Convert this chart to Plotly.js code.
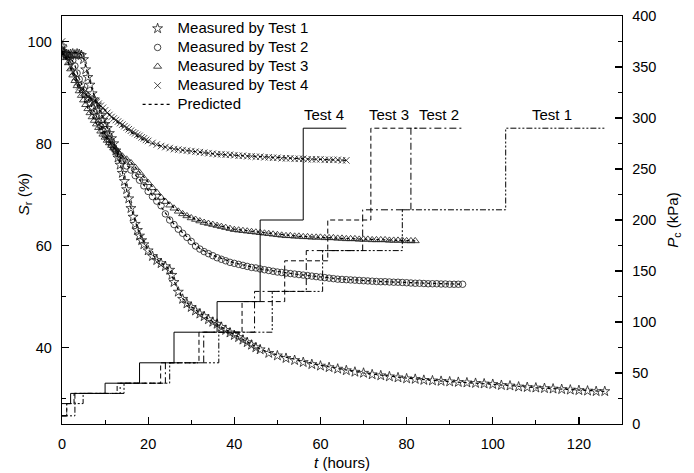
<!DOCTYPE html>
<html>
<head>
<meta charset="utf-8">
<script src="https://cdn.plot.ly/plotly-3.0.1.min.js"></script>
<style>html,body{margin:0;padding:0;background:#fff;}#chart{width:694px;height:473px;}</style>
</head>
<body>
<div id="chart"></div>
<script>
// ---- Measured degree of saturation S_r (%) vs time t (hours) ----
var t1 = [0,0.5,1,1.5,2,2.5,3,3.5,4,4.5,5,5.5,6,6.5,7,7.5,8,8.5,9,9.5,10,10.5,11,11.5,12,12.5,13,13.5,14,14.5,15,15.5,16,16.5,17,17.5,18,18.5,19,20,21,22,23,24,25,25.5,26,27,28,29,30,31,32,33,34,35,36,37,38,39,40,41,42,43,44,45,46,48,50,52,54,56,58,60,62,64,66,68,70,72,74,76,78,80,82,84,86,88,90,92,94,96,98,100,102,104,106,108,110,112,114,116,118,120,122,124,126];
var s1 = [99,98,97.5,97.3,97.5,97.6,97.4,97.6,97.5,97.3,96.5,94.5,93,91.5,89.8,88.6,87.6,86.6,85.6,84.6,83.8,83,82,81,80,78.6,77.2,75.8,74.2,72.6,71,69.2,67.3,65.6,64.2,63,61.9,61,60.2,59,57.9,57.1,56.5,55.9,55.2,54.2,52.8,50.9,49.5,48.6,47.9,47.2,46.6,46.1,45.5,45,44.6,44,43.4,42.9,42.4,42,41.5,41,40.5,40,39.6,38.9,38.4,37.9,37.5,37.1,36.7,36.4,36.1,35.8,35.5,35.2,35.0,34.7,34.5,34.3,34.1,33.9,33.8,33.6,33.5,33.4,33.3,33.2,33.1,33.0,32.9,32.8,32.6,32.5,32.3,32.2,32.1,32.0,31.9,31.8,31.7,31.6,31.5,31.4,31.4];

var t2 = [0,0.5,1,1.5,2,2.5,3,3.5,4,4.5,5,5.5,6,6.5,7,7.5,8,8.5,9,9.5,10,10.5,11,11.5,12,12.5,13,13.5,14,15,16,17,18,19,20,21,22,23,24,25,26,27,28,29,30,31,32,33,34,35,36,37,38,39,40,41,42,43,44,45,46,47,48,49,50,51,52,53,54,55,56,57,58,59,60,61,62,63,64,65,66,67,68,69,70,71,72,73,74,75,76,77,78,79,80,81,82,83,84,85,86,87,88,89,90,91,92,93];
var s2 = [98,97.5,97.3,97,96.8,96.3,95.2,93.8,92.6,91.5,90.5,89.6,88.7,87.9,87,86.2,85.3,84.3,83.3,82.5,81.7,81,80.3,79.7,79.1,78.6,78,77.3,76.6,75.6,74.8,73.7,72.8,71.7,70.6,69.6,68.7,67.8,66.2,65,64.1,63.2,62.4,61.6,60.8,59.9,59.3,58.8,58.4,58.0,57.6,57.3,57.0,56.7,56.5,56.3,56.1,55.9,55.7,55.6,55.4,55.25,55.1,54.95,54.8,54.7,54.6,54.5,54.4,54.3,54.2,54.1,54.0,53.9,53.8,53.7,53.6,53.5,53.4,53.35,53.3,53.25,53.2,53.15,53.1,53.05,53.0,52.95,52.9,52.9,52.85,52.8,52.8,52.75,52.7,52.65,52.6,52.6,52.55,52.5,52.5,52.5,52.45,52.45,52.4,52.4,52.4,52.4];

var t3 = [0,0.5,1,1.5,2,2.5,3,3.5,4,4.5,5,5.5,6,6.5,7,7.5,8,8.5,9,9.5,10,10.5,11,11.5,12,12.5,13,14,15,16,17,18,19,20,21,22,23,24,25,26,27,28,29,30,31,32,33,34,35,36,37,38,39,40,41,42,43,44,45,46,47,48,49,50,51,52,53,54,55,56,57,58,59,60,61,62,63,64,65,66,67,68,69,70,71,72,73,74,75,76,77,78,79,80,81,82];
var s3 = [98.5,97.5,96.8,95.8,94.6,93.4,92.3,91.3,90.3,89.4,88.5,87.6,86.8,86,85.2,84.5,83.8,83.1,82.4,81.8,81.2,80.6,80.1,79.6,79.1,78.7,78.3,77.5,76.9,76.2,75.3,74.3,73.2,72.3,71.3,70.4,69.4,68.6,67.9,67.3,66.7,66.2,65.8,65.4,65.1,64.8,64.5,64.3,64.1,63.9,63.7,63.5,63.3,63.1,63.0,62.9,62.8,62.7,62.6,62.5,62.4,62.3,62.2,62.1,62.0,61.9,61.9,61.8,61.8,61.7,61.7,61.6,61.6,61.6,61.5,61.5,61.5,61.4,61.4,61.3,61.3,61.3,61.2,61.2,61.2,61.1,61.1,61.1,61.1,61.0,61.0,61.0,61.0,60.9,60.9,60.9];

var t4 = [0,0.5,1,1.5,2,2.5,3,3.5,4,4.5,5,5.5,6,6.5,7,7.5,8,8.5,9,9.5,10,10.5,11,11.5,12,12.5,13,13.5,14,14.5,15,15.5,16,16.5,17,17.5,18,18.5,19,19.5,20,21,22,23,24,25,26,27,28,29,30,31,32,33,34,35,36,37,38,39,40,41,42,43,44,45,46,47,48,49,50,51,52,53,54,55,56,57,58,59,60,61,62,63,64,65,66];
var s4 = [100,98.5,97,96,95,94,93,92,91.2,90.5,90,89.5,89.1,88.8,88.6,88.4,88.1,87.8,87.4,87.0,86.5,86.0,85.6,85.2,84.9,84.6,84.3,84.0,83.7,83.4,83.1,82.8,82.5,82.2,82.0,81.7,81.5,81.2,81.0,80.7,80.5,80.1,79.8,79.5,79.3,79.1,78.9,78.8,78.7,78.6,78.5,78.4,78.3,78.2,78.1,78.0,77.9,77.9,77.8,77.8,77.7,77.6,77.6,77.5,77.5,77.4,77.4,77.3,77.3,77.2,77.2,77.1,77.1,77.1,77.0,77.0,77.0,76.9,76.9,76.9,76.9,76.8,76.8,76.8,76.8,76.7,76.7];

// ---- Predicted S_r curves ----
var pt1 = [0,4,5,6,8,10,12,14,16,18,20,22,25,26,28,30,34,38,42,46,50,60,70,80,90,100,110,120,126];
var ps1 = [98,97.8,96.8,93.5,87.8,84,80.2,74.5,67.4,62.2,59.2,57.3,55.3,53,49.6,48,45.6,43.5,41.6,39.7,38.5,36.5,35.0,34.0,33.3,32.8,32.1,31.6,31.4];
var pt2 = [0,2,3,4,6,8,10,12,14,16,18,20,22,24,26,28,30,32,35,40,46,55,65,75,85,93];
var ps2 = [97.5,96.8,95.3,92.7,88.8,85.4,81.8,79.2,76.7,74.9,72.9,70.7,68.8,66.4,64.2,62.5,60.9,59.4,58.1,56.6,55.4,54.3,53.4,52.9,52.6,52.4];
var pt3 = [0,1,2,3,4,6,8,10,12,14,16,18,20,22,24,26,28,30,33,36,40,46,55,65,75,82];
var ps3 = [98,96.9,94.7,92.4,90.4,86.9,83.9,81.3,79.2,77.6,76.3,74.4,72.4,70.5,68.9,67.4,66.3,65.5,64.6,64.0,63.2,62.6,61.8,61.4,61.1,60.9];
var pt4 = [0,2,4,6,8,10,12,14,16,18,20,24,28,32,36,40,46,56,66];
var ps4 = [98,95,91.5,89.3,88,86.6,84.8,83.3,82.2,81.1,80.2,79.3,78.7,78.3,77.9,77.7,77.4,77.0,76.7];

// ---- Confining pressure P_c (kPa) step histories ----
var pcT1 = [0,3,4.9,14.4,25,36.4,48.8,60.5,79,103,126.3];
var pcP1 = [8,20,30,40,60,90,130,170,210,290,290];
var pcT2 = [0,1.1,3,13.5,24,32.9,44.7,56.7,69.8,81,93.3];
var pcP2 = [8,20,30,40,60,90,130,170,210,290,290];
var pcT3 = [0,1.1,2.8,12.8,22.9,31.8,41.8,51.7,61.7,71.7,82.5];
var pcP3 = [8,20,30,40,60,90,120,160,200,290,290];
var pcT4 = [0,2,10,18,26,36,46,56,66];
var pcP4 = [20,30,40,60,90,120,200,290,290];

// ---- Labels ----
var legendNames = ['Measured by Test 1','Measured by Test 2','Measured by Test 3','Measured by Test 4','Predicted'];
var testLabels = ['Test 1','Test 2','Test 3','Test 4'];
var labelT = [113.7, 87.6, 76, 60.9];
var labelP = [303, 303, 303, 303];

var MC = '#1a1a1a';
function big(s) { return '<span style="font-size:15px">' + s + '</span>'; }
function meas(x, y, name, sym, size) {
  return {x:x, y:y, name:big(name), type:'scatter', mode:'markers',
    marker:{symbol:sym, size:size, color:MC, line:{color:MC, width:0.8}}};
}
function pred(x, y, show) {
  return {x:x, y:y, name:big(legendNames[4]), type:'scatter', mode:'lines', showlegend:show,
    line:{color:'#000', width:1.2, dash:'dot'}};
}
function step(x, y, dash) {
  return {x:x, y:y, yaxis:'y2', type:'scatter', mode:'lines', showlegend:false, hoverinfo:'skip',
    line:{color:'#000', width:1, shape:'hv', dash:dash}};
}

var data = [
  step(pcT1, pcP1, '6px,2px,2px,2px,2px,2px'),
  step(pcT2, pcP2, '7px,3px,2px,3px'),
  step(pcT3, pcP3, '5px,3px'),
  step(pcT4, pcP4, 'solid'),
  meas(t1, s1, legendNames[0], 'star-open', 7.5),
  meas(t2, s2, legendNames[1], 'circle-open', 6.5),
  meas(t3, s3, legendNames[2], 'triangle-up-open', 7),
  meas(t4, s4, legendNames[3], 'x-thin-open', 6.5),
  pred(pt1, ps1, true),
  pred(pt2, ps2, false),
  pred(pt3, ps3, false),
  pred(pt4, ps4, false)
];

var annotations = testLabels.map(function(s, i){
  return {text:s, x:labelT[i], y:labelP[i], xref:'x', yref:'y2', showarrow:false,
    xanchor:'center', yanchor:'middle', font:{size:15, color:'#000'}};
});
annotations.push({text:'<i>S</i><sub>r</sub> (%)', xref:'paper', yref:'paper',
  x:-0.0675, y:0.563, textangle:-90, showarrow:false, xanchor:'center', yanchor:'middle',
  font:{size:15.5, color:'#000'}});

var axisCommon = {showgrid:false, zeroline:false, showline:true, linecolor:'#000', linewidth:1.3,
  ticks:'inside', ticklen:7, tickwidth:1.2, tickcolor:'#000', ticklabelstandoff:6,
  tickfont:{size:14.5, color:'#000'}};

var layout = {
  width:694, height:473,
  margin:{l:62, r:72, t:16, b:49, pad:0},
  paper_bgcolor:'#fff', plot_bgcolor:'#fff',
  font:{family:'"Liberation Sans", Arial, sans-serif', size:14, color:'#000'},
  showlegend:true,
  legend:{x:0.135, y:1.005, xanchor:'left', yanchor:'top', bgcolor:'rgba(0,0,0,0)',
    font:{size:12, color:'#000'}, tracegroupgap:0, itemwidth:30},
  xaxis:Object.assign({}, axisCommon, {range:[0,130], tick0:0, dtick:20, mirror:true,
    minor:{dtick:10, ticks:'inside', ticklen:4, tickwidth:1, tickcolor:'#000'},
    title:{text:'<i>t</i> (hours)', standoff:6, font:{size:15, color:'#000'}}}),
  yaxis:Object.assign({}, axisCommon, {range:[25,105], tick0:0, dtick:20,
    minor:{dtick:10, ticks:'inside', ticklen:4, tickwidth:1, tickcolor:'#000'}}),
  yaxis2:Object.assign({}, axisCommon, {range:[0,400], tick0:0, dtick:50, overlaying:'y', side:'right',
    minor:{dtick:25, ticks:'inside', ticklen:4, tickwidth:1, tickcolor:'#000'},
    title:{text:'<i>P</i><sub>c</sub> (kPa)', standoff:12, font:{size:15, color:'#000'}}}),
  annotations:annotations
};

Plotly.newPlot('chart', data, layout, {displayModeBar:false, staticPlot:true});
</script>
</body>
</html>
